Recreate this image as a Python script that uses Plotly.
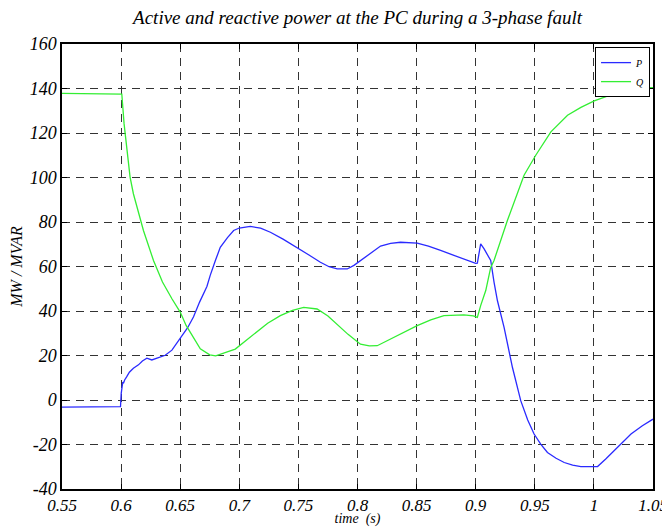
import plotly.graph_objects as go

# ---- data ----
p_time = [0.55, 0.59, 0.5995, 0.6001, 0.6006, 0.601, 0.6014, 0.602, 0.603, 0.6048, 0.607, 0.6104,
          0.6147, 0.618, 0.6218, 0.626, 0.6316, 0.6373, 0.643, 0.65, 0.6563, 0.6613, 0.6664,
          0.6726, 0.6754, 0.68, 0.6839, 0.69, 0.6952, 0.70, 0.7093, 0.718, 0.7263, 0.737,
          0.7489, 0.7586, 0.7686, 0.776, 0.7828, 0.7913, 0.797, 0.8025, 0.8138, 0.8195, 0.828,
          0.8364, 0.8505, 0.86, 0.8703, 0.88, 0.8929, 0.90, 0.9014, 0.9028, 0.9042, 0.907,
          0.910, 0.9127, 0.9155, 0.9184, 0.924, 0.9311, 0.9381, 0.944, 0.9494, 0.955, 0.9607,
          0.968, 0.9749, 0.982, 0.989, 0.996, 1.0031, 1.010, 1.0172, 1.0243, 1.0314, 1.041, 1.05]
p_values = [-3.2, -3.0, -3.0, 3.0, 6.0, 6.5, 8.0, 7.5, 9.0, 10.5, 12.5, 14.3,
            15.8, 17.5, 18.8, 18.0, 19.2, 20.1, 22.4, 27.6, 32.5, 37.4, 44.0,
            51.0, 56.0, 63.0, 68.6, 73.0, 76.2, 77.3, 78.0, 77.2, 75.4, 72.3,
            68.6, 65.3, 61.9, 59.9, 58.9, 58.9, 60.5, 62.7, 67.2, 69.2, 70.4,
            70.9, 70.5, 69.2, 67.2, 65.2, 62.7, 61.4, 61.5, 66.0, 70.2, 68.0,
            65.5, 62.7, 53.0, 44.6, 32.6, 14.6, -0.3, -9.0, -15.3, -19.8, -23.6,
            -26.2, -28.1, -29.3, -29.9, -30.0, -29.9, -26.5, -22.8, -18.9, -15.3, -11.6, -8.6]

q_time = [0.55, 0.5995, 0.6006, 0.6025, 0.6048, 0.6076, 0.6104, 0.6147, 0.6189, 0.6274, 0.635,
          0.643, 0.65, 0.655, 0.667, 0.675, 0.68, 0.6966, 0.7121, 0.724, 0.7347, 0.745,
          0.7545, 0.7658, 0.775, 0.7828, 0.792, 0.8025, 0.81, 0.8167, 0.828, 0.84, 0.8505,
          0.862, 0.8731, 0.89, 0.898, 0.9014, 0.9042, 0.9085, 0.9127, 0.9155, 0.9268, 0.9409,
          0.9508, 0.9636, 0.9777, 0.989, 1.0003, 1.0172, 1.0342, 1.05]
q_values = [137.8, 137.7, 137.5, 124.2, 112.2, 100.2, 92.7, 83.7, 76.2, 62.7, 53.0,
            45.5, 39.5, 33.5, 23.0, 20.3, 19.8, 22.9, 29.6, 34.5, 37.9, 40.3,
            41.6, 40.9, 37.8, 34.1, 29.5, 25.1, 24.3, 24.4, 27.4, 30.5, 33.4,
            36.0, 37.9, 38.3, 37.8, 37.1, 42.4, 49.2, 59.6, 62.7, 80.7, 101.0,
            110.0, 120.5, 128.0, 131.5, 134.4, 137.7, 140.3, 140.4]

x_tick_vals = [0.55, 0.6, 0.65, 0.7, 0.75, 0.8, 0.85, 0.9, 0.95, 1.0, 1.05]
x_tick_text = ["0.55", "0.6", "0.65", "0.7", "0.75", "0.8", "0.85", "0.9", "0.95", "1", "1.05"]
y_tick_vals = [-40, -20, 0, 20, 40, 60, 80, 100, 120, 140, 160]
y_tick_text = ["-40", "-20", "0", "20", "40", "60", "80", "100", "120", "140", "160"]

SERIF = "Liberation Serif"

fig = go.Figure()
fig.add_trace(go.Scatter(x=p_time, y=p_values, mode="lines", name="P",
                         line=dict(color="#2a2aff", width=1.3)))
fig.add_trace(go.Scatter(x=q_time, y=q_values, mode="lines", name="Q",
                         line=dict(color="#33ee33", width=1.3)))

axis_common = dict(
    showline=True, linecolor="black", linewidth=1.5, mirror="ticks",
    ticks="inside", ticklen=5, tickcolor="black", tickwidth=1,
    showgrid=True, gridcolor="#333333", gridwidth=1, griddash="8px,6px",
    zeroline=False,
)

fig.update_xaxes(range=[0.55, 1.05], tickvals=x_tick_vals, ticktext=x_tick_text,
                 automargin=True,
                 tickfont=dict(family=SERIF, size=17, color="black", style="italic"),
                 title=dict(text="time  (s)", standoff=2,
                            font=dict(family=SERIF, size=14, color="black", style="italic")),
                 **axis_common)
fig.update_yaxes(range=[-40, 160], tickvals=y_tick_vals, ticktext=y_tick_text,
                 automargin=False,
                 tickfont=dict(family=SERIF, size=18, color="black", style="italic"),
                 title=dict(text="MW / MVAR", standoff=12,
                            font=dict(family=SERIF, size=16, color="black", style="italic")),
                 **axis_common)

# page body adds an 8px offset, so the figure is 8px smaller than the window
fig.update_layout(
    width=662, height=519,
    margin=dict(l=54, r=17, t=36, b=38, autoexpand=False),
    paper_bgcolor="white", plot_bgcolor="white",
    title=dict(text="Active and reactive power at the PC during a 3-phase fault",
               x=(54 + 645) / 2 / 662, xanchor="center", y=1 - 9 / 519, yanchor="middle",
               font=dict(family=SERIF, size=19, color="black", style="italic")),
    legend=dict(x=0.995, y=0.993, xanchor="right", yanchor="top",
                bgcolor="white", bordercolor="black", borderwidth=1,
                font=dict(family=SERIF, size=10, color="black", style="italic"),
                itemwidth=30, tracegroupgap=0),
    showlegend=True,
)

fig.write_html("out.html")
